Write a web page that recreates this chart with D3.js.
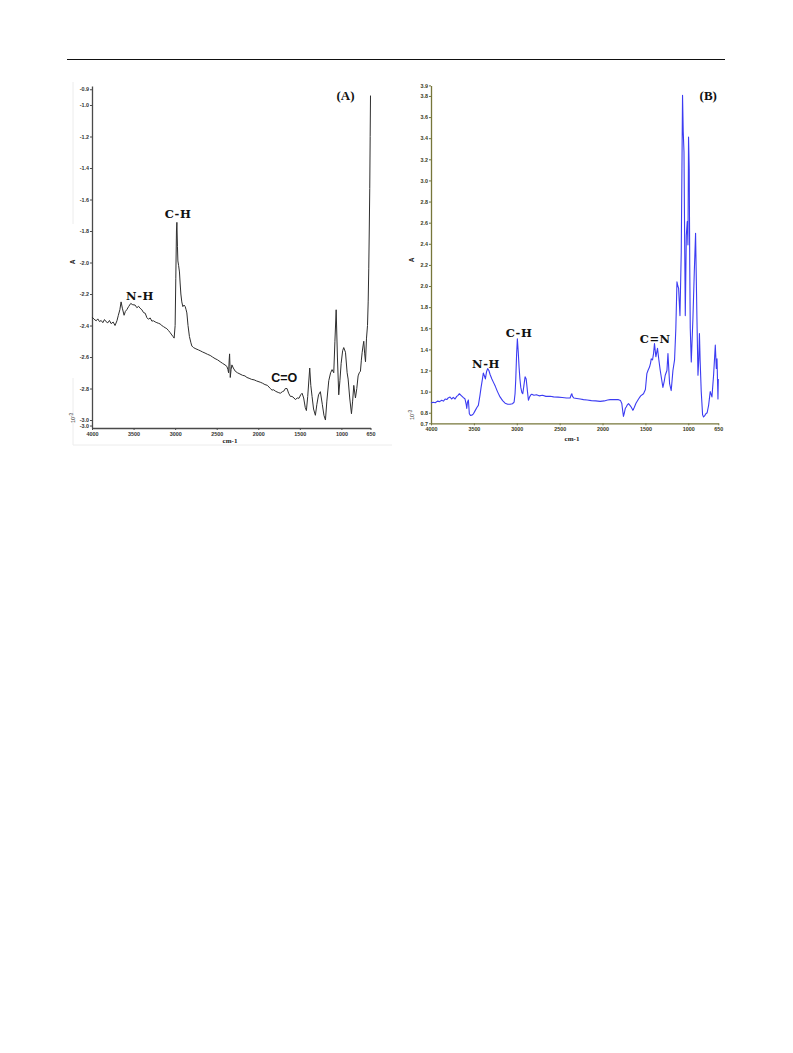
<!DOCTYPE html>
<html>
<head>
<meta charset="utf-8">
<script src="https://cdn.jsdelivr.net/npm/d3@7"></script>
<style>
  html, body { margin: 0; padding: 0; background: #fff; }
  svg { display: block; }
</style>
</head>
<body>
<svg id="chart" width="793" height="1053"></svg>
<script>
// ---------------- DATA ----------------
const xTickValues = [4000, 3500, 3000, 2500, 2000, 1500, 1000, 650];
const xTickLabels = ["4000", "3500", "3000", "2500", "2000", "1500", "1000", "650"];

const yTickValuesA = [-0.9, -1.0, -1.2, -1.4, -1.6, -1.8, -2.0, -2.2, -2.4, -2.6, -2.8, -3.0, -3.035];
const yTickLabelsA = ["-0.9", "-1.0", "-1.2", "-1.4", "-1.6", "-1.8", "-2.0", "-2.2", "-2.4", "-2.6", "-2.8", "-3.0", "-3.0"];

const yTickValuesB = [0.7, 0.8, 1.0, 1.2, 1.4, 1.6, 1.8, 2.0, 2.2, 2.4, 2.6, 2.8, 3.0, 3.2, 3.4, 3.6, 3.8, 3.9];
const yTickLabelsB = ["0.7", "0.8", "1.0", "1.2", "1.4", "1.6", "1.8", "2.0", "2.2", "2.4", "2.6", "2.8", "3.0", "3.2", "3.4", "3.6", "3.8", "3.9"];

// Spectrum A (wavenumber cm-1, absorbance x10^-3)
const wavenumberA = [4000,3975,3950,3930,3910,3890,3870,3850,3830,3810,3790,3770,3745,3723,3700,3683,3665,3650,3635,3614,3598,3582,3560,3534,3510,3482,3460,3440,3422,3400,3380,3360,3340,3322,3300,3280,3261,3240,3220,3200,3181,3160,3140,3120,3100,3080,3060,3040,3025,3012,3000,2992,2984,2979,2972,2967,2958,2948,2940,2931,2920,2907,2893,2879,2868,2859,2845,2828,2810,2799,2780,2750,2720,2699,2670,2640,2610,2578,2550,2520,2490,2458,2430,2400,2377,2365,2357,2350,2345,2340,2337,2327,2317,2300,2277,2250,2220,2190,2160,2136,2110,2080,2050,2020,1976,1950,1920,1890,1855,1835,1815,1790,1760,1735,1710,1690,1675,1654,1635,1614,1594,1570,1554,1530,1510,1490,1473,1454,1435,1421,1405,1381,1368,1353,1335,1313,1295,1275,1253,1230,1210,1192,1175,1152,1130,1112,1092,1078,1063,1048,1032,1018,1003,985,972,951,931,919,900,879,865,851,831,815,799,785,771,760,750,740,731,720,710,698,686,678,671,665,659,654,650];
const absorbanceA = [-2.346,-2.36,-2.37,-2.358,-2.375,-2.368,-2.382,-2.362,-2.376,-2.383,-2.368,-2.388,-2.378,-2.40,-2.37,-2.335,-2.30,-2.25,-2.29,-2.335,-2.31,-2.30,-2.28,-2.26,-2.268,-2.27,-2.287,-2.278,-2.29,-2.30,-2.318,-2.322,-2.35,-2.36,-2.352,-2.372,-2.37,-2.377,-2.382,-2.386,-2.39,-2.40,-2.407,-2.414,-2.42,-2.432,-2.445,-2.46,-2.47,-2.48,-2.40,-2.10,-1.80,-1.745,-1.90,-1.99,-2.02,-2.06,-2.13,-2.20,-2.25,-2.28,-2.27,-2.28,-2.30,-2.32,-2.40,-2.47,-2.51,-2.53,-2.54,-2.548,-2.555,-2.56,-2.568,-2.575,-2.583,-2.59,-2.60,-2.61,-2.618,-2.63,-2.64,-2.65,-2.66,-2.68,-2.70,-2.62,-2.58,-2.66,-2.73,-2.68,-2.65,-2.67,-2.69,-2.70,-2.708,-2.716,-2.72,-2.73,-2.735,-2.742,-2.745,-2.752,-2.76,-2.766,-2.775,-2.78,-2.80,-2.81,-2.808,-2.818,-2.825,-2.83,-2.82,-2.815,-2.80,-2.80,-2.83,-2.85,-2.85,-2.86,-2.87,-2.86,-2.862,-2.84,-2.83,-2.86,-2.92,-2.94,-2.85,-2.67,-2.78,-2.85,-2.93,-2.97,-2.90,-2.84,-2.82,-2.90,-2.97,-3.00,-2.88,-2.75,-2.70,-2.68,-2.70,-2.50,-2.30,-2.60,-2.84,-2.75,-2.64,-2.56,-2.54,-2.57,-2.70,-2.74,-2.86,-2.96,-2.88,-2.78,-2.86,-2.80,-2.72,-2.70,-2.69,-2.62,-2.57,-2.53,-2.50,-2.58,-2.63,-2.48,-2.40,-2.25,-2.04,-1.80,-1.53,-1.20,-0.94];

// Spectrum B (wavenumber cm-1, absorbance x10^-3)
const wavenumberB = [4000,3975,3950,3925,3900,3875,3855,3835,3815,3800,3778,3760,3740,3720,3700,3685,3669,3650,3625,3603,3590,3583,3575,3564,3558,3553,3540,3525,3505,3485,3465,3448,3430,3416,3400,3390,3378,3366,3352,3339,3325,3310,3290,3273,3250,3225,3195,3165,3136,3105,3078,3050,3031,3020,3012,3002,2993,2983,2973,2963,2953,2940,2930,2918,2903,2890,2875,2864,2850,2835,2825,2800,2770,2740,2700,2660,2611,2570,2520,2470,2420,2390,2378,2365,2358,2350,2335,2300,2260,2222,2180,2130,2080,2028,1980,1940,1911,1860,1814,1790,1775,1765,1756,1745,1735,1724,1710,1697,1680,1666,1646,1630,1610,1580,1555,1522,1500,1483,1470,1452,1440,1432,1417,1405,1394,1378,1359,1343,1327,1296,1280,1269,1249,1237,1218,1199,1179,1160,1145,1132,1122,1113,1105,1097,1082,1067,1059,1050,1042,1035,1023,1012,1004,997,989,983,977,965,946,930,915,899,887,878,870,862,849,833,822,810,795,780,763,744,724,705,685,673,665,654,650];
const absorbanceB = [0.892,0.90,0.895,0.91,0.905,0.918,0.91,0.93,0.925,0.94,0.949,0.93,0.945,0.93,0.955,0.965,0.98,0.965,0.945,0.93,0.88,0.84,0.90,0.92,0.85,0.79,0.775,0.776,0.79,0.82,0.85,0.87,0.96,1.04,1.12,1.176,1.15,1.12,1.19,1.218,1.20,1.16,1.12,1.09,1.05,1.00,0.95,0.915,0.89,0.88,0.88,0.885,0.90,0.98,1.11,1.35,1.50,1.38,1.23,1.12,1.04,0.99,0.98,1.05,1.14,1.12,1.00,0.918,0.95,0.97,0.975,0.965,0.97,0.96,0.965,0.955,0.956,0.95,0.948,0.945,0.94,0.94,0.94,0.97,0.98,0.955,0.94,0.935,0.93,0.924,0.92,0.915,0.912,0.908,0.912,0.92,0.924,0.925,0.924,0.915,0.887,0.82,0.766,0.80,0.84,0.854,0.875,0.887,0.87,0.854,0.823,0.85,0.89,0.93,0.96,0.98,1.02,1.17,1.20,1.233,1.27,1.31,1.30,1.36,1.455,1.33,1.41,1.30,1.20,1.04,1.10,1.155,1.20,1.36,1.076,1.01,1.20,1.30,1.60,2.04,2.00,1.98,1.85,1.72,2.32,3.806,3.46,3.27,2.40,1.72,2.48,2.61,2.39,3.41,3.11,2.20,1.60,1.28,1.69,2.13,2.50,1.69,1.155,1.30,1.55,1.30,1.00,0.78,0.76,0.77,0.79,0.80,0.87,1.00,0.95,1.155,1.44,1.22,1.31,0.93,1.12];

// Band annotations
const bandLabelsA = ["N-H", "C-H", "C=O"];
const bandWavenumbersA = [3422, 2964, 1687];
const bandAbsorbancesA = [-2.241, -1.717, -2.757];
const bandLabelsB = ["N-H", "C-H", "C=N"];
const bandWavenumbersB = [3358, 2973, 1386];
const bandAbsorbancesB = [1.228, 1.522, 1.465];

// ---------------- DRAWING ----------------
const svg = d3.select("#chart");

// top rule
svg.append("line").attr("x1", 67).attr("x2", 725).attr("y1", 59.5).attr("y2", 59.5)
  .attr("stroke", "#111").attr("stroke-width", 1);

// faint image frame around panel A
svg.append("path").attr("d", "M73,82V224 M73,378V445H392")
  .attr("fill", "none").attr("stroke", "#ececec").attr("stroke-width", 1);

function panel(cfg) {
  const g = svg.append("g");
  const x = d3.scaleLinear().domain([4000, 650]).range(cfg.xRange);
  const y = d3.scaleLinear().domain(cfg.yDomain).range(cfg.yRange);

  // y axis
  const ya = g.append("g").attr("transform", `translate(${cfg.xRange[0]},0)`)
    .call(d3.axisLeft(y).tickValues(cfg.yTicks)
      .tickFormat((d, i) => cfg.yLabels[i]).tickSize(2).tickSizeOuter(0).tickPadding(1));
  ya.select(".domain").attr("stroke", cfg.axisColor).attr("stroke-width", 1.3);
  ya.selectAll(".tick line").attr("stroke", cfg.axisColor);
  ya.selectAll(".tick text").attr("font-family", "Liberation Sans, Arial, sans-serif")
    .attr("font-size", 5.4).attr("font-weight", "bold").attr("fill", cfg.labelColor);

  // x axis
  const xa = g.append("g").attr("transform", `translate(0,${cfg.xAxisY})`)
    .call(d3.axisBottom(x).tickValues(xTickValues)
      .tickFormat((d, i) => xTickLabels[i]).tickSize(2).tickSizeOuter(0).tickPadding(2));
  xa.select(".domain").attr("stroke", cfg.axisColor).attr("stroke-width", 1.3);
  xa.selectAll(".tick line").attr("stroke", cfg.axisColor);
  xa.selectAll(".tick text").attr("font-family", "Liberation Sans, Arial, sans-serif")
    .attr("font-size", 5.4).attr("font-weight", "bold").attr("fill", cfg.labelColor);

  // vertical segment of y axis down to x axis
  g.append("line").attr("x1", cfg.xRange[0]).attr("x2", cfg.xRange[0])
    .attr("y1", y.range()[0]).attr("y2", cfg.xAxisY)
    .attr("stroke", cfg.axisColor).attr("stroke-width", 1.3);

  // axis titles
  g.append("text").attr("transform", `translate(${cfg.titleX},${cfg.aY}) rotate(-90)`)
    .attr("text-anchor", "middle").attr("font-family", "Liberation Sans, Arial, sans-serif")
    .attr("font-size", 6.5).attr("font-weight", "bold").attr("fill", "#222").text("A");
  const t = g.append("text").attr("transform", `translate(${cfg.titleX},${cfg.expY}) rotate(-90)`)
    .attr("text-anchor", "middle").attr("font-family", "Liberation Sans, Arial, sans-serif")
    .attr("font-size", 5.5).attr("fill", "#222");
  t.append("tspan").text("10");
  t.append("tspan").attr("dy", -2).attr("font-size", 4.5).text("-3");
  g.append("text").attr("x", cfg.cmX).attr("y", cfg.cmY).attr("text-anchor", "middle")
    .attr("font-family", "Liberation Serif, Times New Roman, serif").attr("font-size", 7)
    .attr("font-weight", "bold").attr("fill", "#222").text("cm-1");

  // spectrum
  const pts = cfg.w.map((w, i) => [w, cfg.a[i]]);
  g.append("path").datum(pts)
    .attr("d", d3.line().x(d => x(d[0])).y(d => y(d[1])))
    .attr("fill", "none").attr("stroke", cfg.lineColor).attr("stroke-width", cfg.lineWidth)
    .attr("stroke-linejoin", "round");

  // band labels
  cfg.bandLabels.forEach((lbl, i) => {
    const isSans = lbl === "C=O";
    g.append("text").attr("x", x(cfg.bandW[i])).attr("y", y(cfg.bandA[i]))
      .attr("text-anchor", "middle")
      .attr("font-family", isSans ? "Liberation Sans, Arial, sans-serif" : "DejaVu Serif, serif")
      .attr("font-size", isSans ? 12.5 : 11.5).attr("font-weight", "bold")
      .attr("letter-spacing", isSans ? 0 : 0.6).attr("fill", "#111")
      .text(lbl);
  });

  // panel letter
  g.append("text").attr("x", x(cfg.letterW)).attr("y", y(cfg.letterA)).attr("text-anchor", "middle")
    .attr("font-family", "Liberation Serif, Times New Roman, serif").attr("font-size", 13)
    .attr("font-weight", "bold").attr("fill", "#111").text(cfg.letter);
}

panel({
  xRange: [92, 370.5], yDomain: [-3.05, -0.88], yRange: [427.9, 86.1], xAxisY: 428,
  yTicks: yTickValuesA, yLabels: yTickLabelsA,
  axisColor: "#4a4a4a", labelColor: "#333",
  titleX: 75, aY: 262, expY: 418, cmX: 230, cmY: 443,
  w: wavenumberA, a: absorbanceA, lineColor: "#2e2e2e", lineWidth: 1,
  bandLabels: bandLabelsA, bandW: bandWavenumbersA, bandA: bandAbsorbancesA,
  letter: "(A)", letterW: 951, letterA: -0.968
});

panel({
  xRange: [431, 718.3], yDomain: [0.7, 3.9], yRange: [423.3, 85.4], xAxisY: 423.3,
  yTicks: yTickValuesB, yLabels: yTickLabelsB,
  axisColor: "#76763a", labelColor: "#3a3a1a",
  titleX: 414, aY: 260, expY: 415, cmX: 572, cmY: 441,
  w: wavenumberB, a: absorbanceB, lineColor: "#3c3cf2", lineWidth: 1.1,
  bandLabels: bandLabelsB, bandW: bandWavenumbersB, bandA: bandAbsorbancesB,
  letter: "(B)", letterW: 767, letterA: 3.762
});
</script>
</body>
</html>
